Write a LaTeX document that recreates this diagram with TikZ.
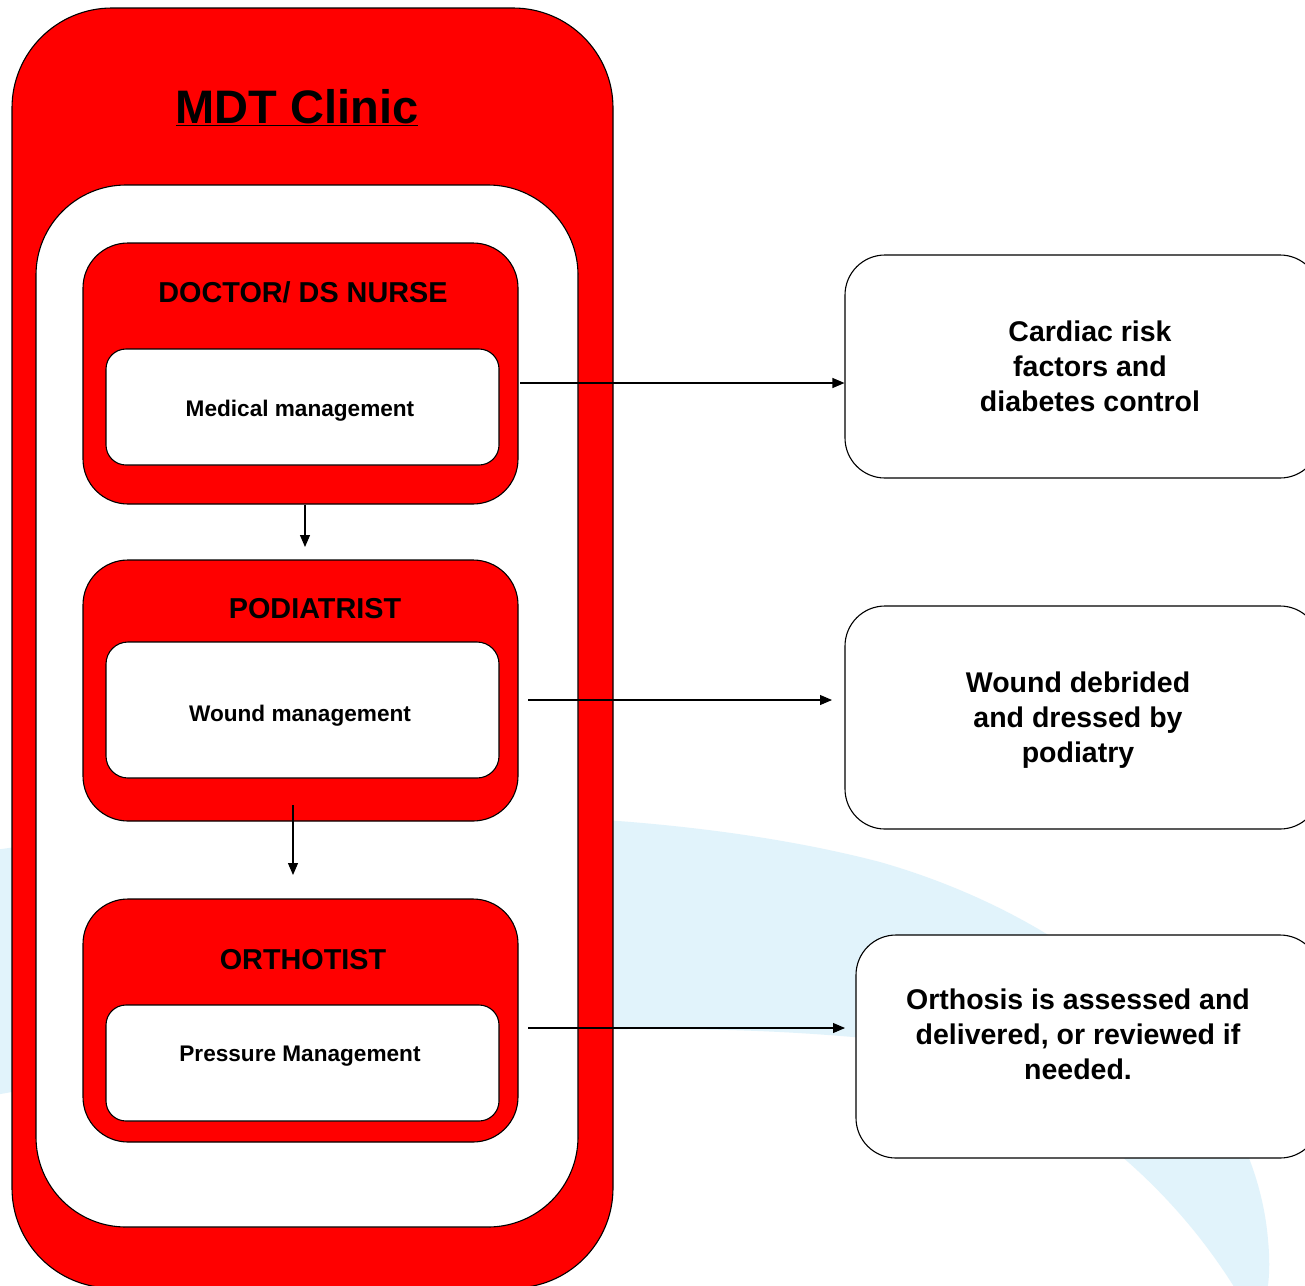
\documentclass[tikz,border=0pt]{standalone}
\usepackage{fontspec}
\setmainfont{Liberation Sans}
\usetikzlibrary{arrows.meta}
\definecolor{swoosh}{RGB}{225,243,251}
\definecolor{mdtred}{RGB}{255,0,0}
\tikzset{
  redbox/.style={draw=black, line width=1.1pt, fill=mdtred, rectangle, inner sep=0pt},
  whitebox/.style={draw=black, line width=1.1pt, fill=white, rectangle, inner sep=0pt},
  outbox/.style={draw=black, line width=1.1pt, fill=white, rectangle, rounded corners=40pt, minimum height=223pt, inner sep=0pt},
  rolelabel/.style={font=\fontsize{28.8}{34}\selectfont\bfseries, inner sep=0pt},
  tasklabel/.style={font=\fontsize{22.6}{27}\selectfont\bfseries, inner sep=0pt},
  outlabel/.style={font=\fontsize{28.5}{35}\selectfont\bfseries, align=center, inner sep=0pt},
  arr/.style={line width=1.1pt, -{Triangle[length=12pt,width=10pt]}}
}
\begin{document}
\begin{tikzpicture}[x=1pt,y=-1pt]
\clip (0,0) rectangle (1305,1285);
\fill[white] (0,0) rectangle (1305,1285);
% background swoosh
\fill[swoosh] (-5,850) .. controls (400,790) and (700,815) .. (880,862)
  .. controls (1100,925) and (1255,1080) .. (1268,1240)
  .. controls (1271,1270) and (1268,1290) .. (1265,1300)
  -- (1242,1300)
  .. controls (1160,1160) and (1010,1050) .. (853,1037)
  .. controls (600,1015) and (300,1040) .. (-5,1095) -- cycle;
% MDT clinic
\node[redbox, rounded corners=100pt, minimum width=601pt, minimum height=1280pt] (outer) at (312.5,648) {};
\node[whitebox, rounded corners=90pt, minimum width=542pt, minimum height=1042pt] (inner) at (307,706) {};
\node[inner sep=0pt, font=\fontsize{47}{56}\selectfont\bfseries] (title) at (297,108) {\underline{MDT Clinic}};
% doctor
\node[redbox, rounded corners=45pt, minimum width=435pt, minimum height=261pt] (doc) at (300.5,373.5) {};
\node[rolelabel] (doct) at (303,292) {DOCTOR/ DS NURSE};
\node[whitebox, rounded corners=20pt, minimum width=393pt, minimum height=116pt] (med) at (302.5,407) {};
\node[tasklabel] (medt) at (300,411) {Medical management};
% podiatrist
\node[redbox, rounded corners=45pt, minimum width=435pt, minimum height=261pt] (pod) at (300.5,690.5) {};
\node[rolelabel] (podt) at (315,609) {PODIATRIST};
\node[whitebox, rounded corners=22pt, minimum width=393pt, minimum height=136pt] (wound) at (302.5,710) {};
\node[tasklabel] (woundt) at (300,716) {Wound management};
% orthotist
\node[redbox, rounded corners=45pt, minimum width=435pt, minimum height=243pt] (orth) at (300.5,1020.5) {};
\node[rolelabel] (ortht) at (303,960) {ORTHOTIST};
\node[whitebox, rounded corners=20pt, minimum width=393pt, minimum height=116pt] (press) at (302.5,1063) {};
\node[tasklabel] (presst) at (300,1056) {Pressure Management};
% outcome boxes
\node[outbox, minimum width=475pt] (card) at (1082.5,366.5) {};
\node[outlabel] (cardt) at (1090,366) {Cardiac risk\\factors and\\diabetes control};
\node[outbox, minimum width=475pt] (deb) at (1082.5,717.5) {};
\node[outlabel] (debt) at (1078,720) {Wound debrided\\and dressed by\\podiatry};
\node[outbox, minimum width=464pt] (ortho) at (1088,1046.5) {};
\node[outlabel] (orthot) at (1078,1034) {Orthosis is assessed and\\delivered, or reviewed if\\needed.};
% connectors
\coordinate (d1) at (305,547);
\draw[arr] (doc.south -| d1) -- (d1);
\coordinate (d2s) at (293,805);
\coordinate (d2e) at (293,875);
\draw[arr] (d2s) -- (d2e);
\coordinate (h1s) at (520,383);
\draw[arr] (h1s) -- (card.west |- h1s);
\coordinate (h2s) at (528,700);
\coordinate (h2e) at (832,700);
\draw[arr] (h2s) -- (h2e);
\coordinate (h3s) at (528,1028);
\coordinate (h3e) at (845,1028);
\draw[arr] (h3s) -- (h3e);
\end{tikzpicture}
\end{document}
